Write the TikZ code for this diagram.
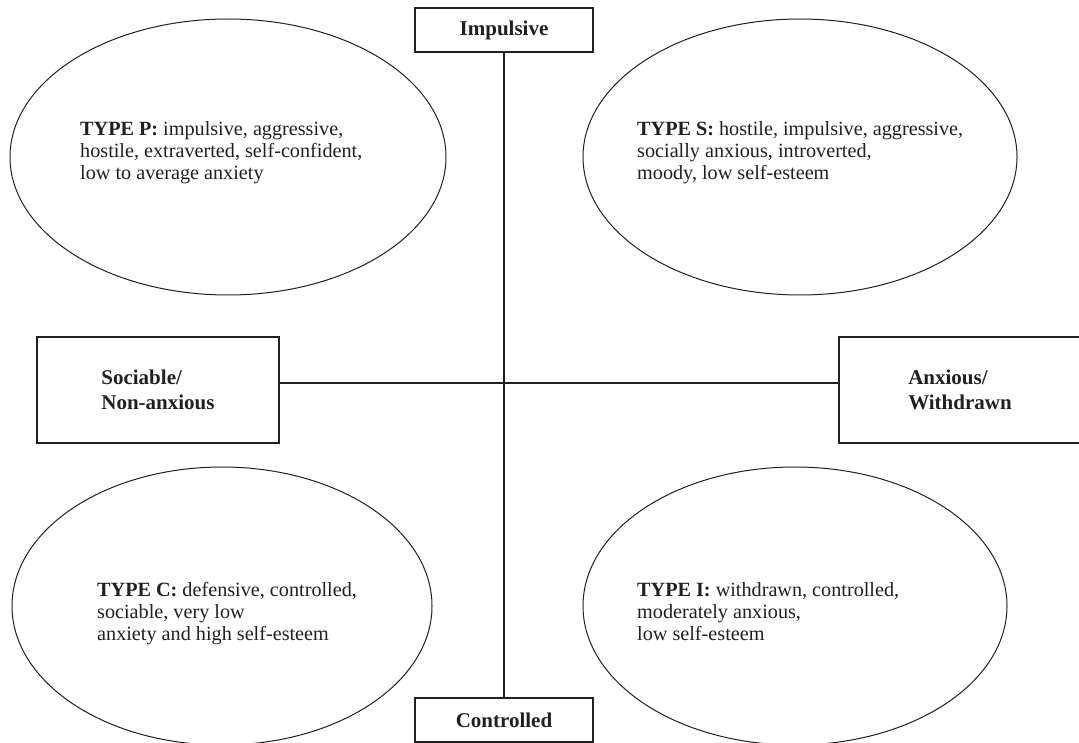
\documentclass[tikz,border=0pt]{standalone}
\usepackage{fontspec}
\setmainfont{Liberation Serif}
\usetikzlibrary{shapes.geometric}
\definecolor{ink}{HTML}{231F20}
\begin{document}
\begin{tikzpicture}[x=1pt,y=-1pt,
  axisline/.style={draw=ink, line width=1.1pt},
  axisbox/.style={draw=ink, line width=1.1pt, fill=white, inner sep=0pt,
    font=\fontsize{21}{25}\selectfont\bfseries, text=ink, align=left},
  pole/.style={axisbox, minimum width=178pt, minimum height=44pt},
  side/.style={axisbox, minimum width=242pt, minimum height=106pt},
  typeoval/.style={ellipse, draw=ink, line width=1pt, inner sep=0pt},
  desc/.style={font=\fontsize{20.2}{22}\selectfont, text=ink, align=left,
    anchor=base west, inner sep=0pt}]

\clip (0,0) rectangle (1079,743);
\fill[white] (0,0) rectangle (1079,743);

% the four personality types
\node[typeoval, minimum width=436pt, minimum height=276pt] (p) at (228,157) {};
\node[typeoval, minimum width=434pt, minimum height=276pt] (s) at (800,157) {};
\node[typeoval, minimum width=420pt, minimum height=278pt] (c) at (222,606) {};
\node[typeoval, minimum width=424pt, minimum height=278pt] (i) at (795,606) {};

% descriptions: each node sits on the baseline of its last line
\node[desc] (tp) at (80,180) {\textbf{TYPE P:} impulsive, aggressive,\\hostile, extraverted, self-confident,\\low to average anxiety};
\node[desc] (ts) at (637,180) {\textbf{TYPE S:} hostile, impulsive, aggressive,\\socially anxious, introverted,\\moody, low self-esteem};
\node[desc] (tc) at (97,640) {\textbf{TYPE C:} defensive, controlled,\\sociable, very low\\anxiety and high self-esteem};
\node[desc] (ti) at (637,640) {\textbf{TYPE I:} withdrawn, controlled,\\moderately anxious,\\low self-esteem};

% the two axes
\node[pole] (imp) at (504,30) {Impulsive};
\node[pole] (ctl) at (504,720) {Controlled};
\node[side] (soc) at (158,390) {Sociable/\\Non-anxious};
\node[side] (anx) at (960,390) {Anxious/\\Withdrawn};

\draw[axisline] (imp.south) -- (ctl.north);
\draw[axisline] ([yshift=7pt]soc.east) -- ([yshift=7pt]anx.west);
\end{tikzpicture}
\end{document}
